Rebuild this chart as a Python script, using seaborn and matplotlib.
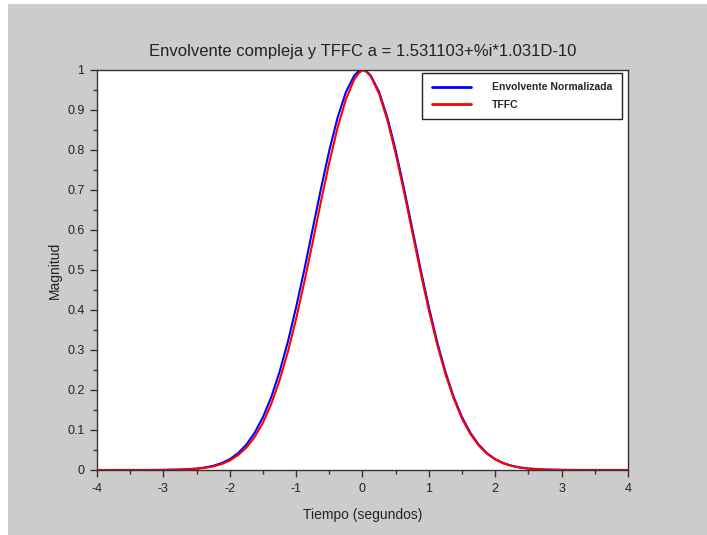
import numpy as np
import pandas as pd
import matplotlib
matplotlib.use("Agg")
import matplotlib.pyplot as plt
from matplotlib.ticker import MultipleLocator
from matplotlib.patches import Rectangle
import seaborn as sns

# ---- data ----
tiempo = [-4.0, -3.75, -3.5, -3.25, -3.0, -2.75,
          -2.5, -2.375, -2.25, -2.125, -2.0, -1.875, -1.75, -1.625, -1.5, -1.375,
          -1.25, -1.125, -1.0, -0.875, -0.75, -0.625, -0.5, -0.375, -0.25, -0.125,
          -0.0625, 0.0, 0.0625,
          0.125, 0.25, 0.375, 0.5, 0.625, 0.75, 0.875, 1.0, 1.125, 1.25,
          1.375, 1.5, 1.625, 1.75, 1.875, 2.0, 2.125, 2.25, 2.375, 2.5,
          2.75, 3.0, 3.25, 3.5, 3.75, 4.0]

envolvente = [0.0, 0.0, 0.0, 0.0, 0.0003, 0.0011,
              0.0036, 0.0062, 0.0105, 0.017, 0.027, 0.042, 0.0635, 0.093, 0.132, 0.182,
              0.245, 0.320, 0.407, 0.502, 0.603, 0.704, 0.799, 0.881, 0.945, 0.986,
              0.9965, 1.0, 0.9965,
              0.986, 0.945, 0.881, 0.799, 0.704, 0.603, 0.502, 0.407, 0.320, 0.245,
              0.182, 0.132, 0.093, 0.0635, 0.042, 0.027, 0.017, 0.0105, 0.0062, 0.0036,
              0.0011, 0.0003, 0.0, 0.0, 0.0, 0.0]

tffc = [0.0, 0.0, 0.0, 0.0, 0.0002, 0.0009,
        0.003, 0.0053, 0.0089, 0.0147, 0.0236, 0.037, 0.056, 0.0825, 0.118, 0.165,
        0.224, 0.295, 0.378, 0.471, 0.570, 0.672, 0.769, 0.856, 0.927, 0.976,
        0.991, 1.0, 0.995,
        0.984, 0.941, 0.875, 0.791, 0.696, 0.595, 0.494, 0.399, 0.314, 0.240,
        0.178, 0.128, 0.090, 0.0616, 0.0408, 0.0264, 0.0165, 0.0101, 0.006, 0.0035,
        0.001, 0.0003, 0.0, 0.0, 0.0, 0.0]

series_names = ["Envolvente Normalizada", "TFFC"]
series_colors = ["#0000ff", "#ff0000"]

titulo = "Envolvente compleja y TFFC a = 1.531103+%i*1.031D-10"
xlabel = "Tiempo (segundos)"
ylabel = "Magnitud"

df = pd.DataFrame({
    "t": tiempo * 2,
    "v": envolvente + tffc,
    "serie": [series_names[0]] * len(tiempo) + [series_names[1]] * len(tiempo),
})

sns.set_theme(style="ticks")
plt.rcParams["font.family"] = ["Liberation Sans", "DejaVu Sans"]

gray = "#cccccc"
fig = plt.figure(figsize=(7.07, 5.35), dpi=100, facecolor=gray)
# thin white margins at left/top as in the reference screenshot
fig.patches.append(Rectangle((0, 0), 8 / 707, 1, transform=fig.transFigure,
                             facecolor="white", edgecolor="none", zorder=-1))
fig.patches.append(Rectangle((0, 1 - 4 / 535), 1, 4 / 535, transform=fig.transFigure,
                             facecolor="white", edgecolor="none", zorder=-1))

ax = fig.add_axes([97 / 707, 1 - 470 / 535, 531 / 707, 400 / 535])
ax.set_facecolor("white")

sns.lineplot(data=df, x="t", y="v", hue="serie", hue_order=series_names,
             palette=series_colors, linewidth=1.5, ax=ax, sort=False,
             estimator=None)

ax.set_xlim(-4, 4)
ax.set_ylim(0, 1)
ax.xaxis.set_major_locator(MultipleLocator(1))
ax.xaxis.set_minor_locator(MultipleLocator(0.5))
ax.yaxis.set_major_locator(MultipleLocator(0.1))
ax.yaxis.set_minor_locator(MultipleLocator(0.05))
ax.set_yticks(np.arange(0, 1.01, 0.1))
ax.set_yticklabels(["0", "0.1", "0.2", "0.3", "0.4", "0.5", "0.6", "0.7", "0.8", "0.9", "1"])
ax.set_xticks(np.arange(-4, 4.01, 1))
ax.set_xticklabels(["-4", "-3", "-2", "-1", "0", "1", "2", "3", "4"])

ax.tick_params(axis="both", which="major", direction="out", length=5, width=1,
               color="#333333", labelsize=9, labelcolor="#222222", pad=4)
ax.tick_params(axis="both", which="minor", direction="out", length=3, width=1,
               color="#333333")
for s in ax.spines.values():
    s.set_color("#333333")
    s.set_linewidth(1)

ax.set_title(titulo, fontsize=12, color="#222222", pad=10)
ax.set_xlabel(xlabel, fontsize=10, color="#222222", labelpad=10)
ax.set_ylabel(ylabel, fontsize=10, color="#222222", labelpad=4)

leg = ax.legend(loc="upper right", bbox_to_anchor=(1 - 6 / 531, 1 - 3 / 400),
                borderaxespad=0, fancybox=False, framealpha=1,
                edgecolor="#222222", facecolor="white", handlelength=3.8,
                prop={"size": 7.5, "weight": "bold"}, borderpad=0.9,
                labelspacing=0.7, handletextpad=2.0)
leg.get_frame().set_linewidth(1)
for line in leg.get_lines():
    line.set_linewidth(2)

fig.savefig("out.png", dpi=100, facecolor=gray)
